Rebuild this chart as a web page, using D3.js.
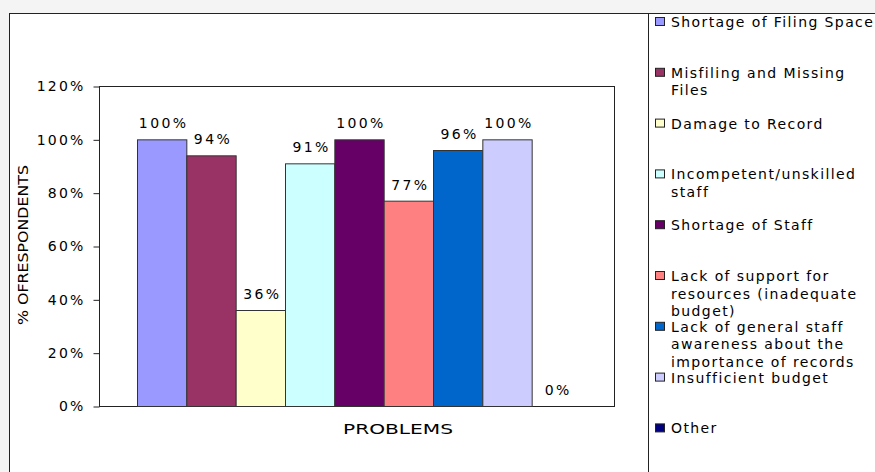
<!DOCTYPE html>
<html>
<head>
<meta charset="utf-8">
<script src="https://cdn.jsdelivr.net/npm/d3@7/dist/d3.min.js"></script>
<style>
  body { margin: 0; background: #f4f4f4; }
  svg text { font-family: "DejaVu Sans", Verdana, sans-serif; fill: #000; }
</style>
</head>
<body>
<svg id="chart" width="875" height="472"></svg>
<script>
// chart data
var problems = ["Shortage of Filing Space", "Misfiling and Missing Files", "Damage to Record",
  "Incompetent/unskilled staff", "Shortage of Staff",
  "Lack of support for resources (inadequate budget)",
  "Lack of general staff awareness about the importance of records",
  "Insufficient budget", "Other"];
var legendLines = [["Shortage of Filing Space"], ["Misfiling and Missing", "Files"], ["Damage to Record"],
  ["Incompetent/unskilled", "staff"], ["Shortage of Staff"],
  ["Lack of support for", "resources (inadequate", "budget)"],
  ["Lack of general staff", "awareness about the", "importance of records"],
  ["Insufficient budget"], ["Other"]];
var percents = [100, 94, 36, 91, 100, 77, 96, 100, 0];
var colors = ["#9999ff", "#993366", "#ffffcc", "#ccffff", "#660066", "#ff8080", "#0066cc", "#ccccff", "#000080"];
var yTicks = [0, 20, 40, 60, 80, 100, 120];

var svg = d3.select("#chart");

// chart frame (white area with dark border lines)
svg.append("rect").attr("x", 10).attr("y", 13).attr("width", 865).attr("height", 459).attr("fill", "#fff");
svg.append("line").attr("x1", 10).attr("x2", 875).attr("y1", 13.5).attr("y2", 13.5).attr("stroke", "#222");
svg.append("line").attr("x1", 9.5).attr("x2", 9.5).attr("y1", 13).attr("y2", 472).attr("stroke", "#222");
svg.append("line").attr("x1", 648.5).attr("x2", 648.5).attr("y1", 13).attr("y2", 472).attr("stroke", "#222");

var plot = {left: 99, top: 86, right: 614, bottom: 406};

var y = d3.scaleLinear().domain([0, 120]).range([plot.bottom, plot.top]);
var x = d3.scaleBand().domain(problems)
  .range([plot.left + 38, plot.right - 33]).paddingInner(0);

// plot box
svg.append("rect")
  .attr("x", plot.left + 0.5).attr("y", plot.top + 0.5)
  .attr("width", plot.right - plot.left).attr("height", plot.bottom - plot.top)
  .attr("fill", "#fff").attr("stroke", "#222");

// bars
svg.selectAll("rect.bar").data(problems).enter().append("rect")
  .attr("class", "bar")
  .attr("x", function(d) { return x(d) + 0.5; })
  .attr("y", function(d, i) { return y(percents[i]) + 0.5; })
  .attr("width", x.bandwidth())
  .attr("height", function(d, i) { return y(0) - y(percents[i]); })
  .attr("fill", function(d, i) { return colors[i]; })
  .attr("stroke", "#333").attr("stroke-width", 1);

// value labels
svg.selectAll("text.val").data(problems).enter().append("text")
  .attr("class", "val")
  .attr("x", function(d) { return x(d) + x.bandwidth() / 2 + 2; })
  .attr("y", function(d, i) { return y(percents[i]) - 11; })
  .attr("text-anchor", "middle")
  .attr("font-size", 14).attr("letter-spacing", 2.4)
  .text(function(d, i) { return percents[i] + "%"; });

// y axis
var yAxis = d3.axisLeft(y).tickValues(yTicks).tickSize(6).tickPadding(8)
  .tickFormat(function(d) { return d + "%"; });
var gy = svg.append("g").attr("transform", "translate(" + (plot.left + 0.5) + ",0.5)").call(yAxis);
gy.select(".domain").remove();
gy.selectAll(".tick line").attr("stroke", "#222");
gy.selectAll(".tick text").attr("font-size", 14).attr("letter-spacing", 2.2)
  .attr("font-family", "DejaVu Sans").attr("fill", "#000");

// axis titles
svg.append("text")
  .attr("transform", "translate(28,245) rotate(-90)")
  .attr("text-anchor", "middle").attr("font-size", 14)
  .attr("textLength", 160).attr("lengthAdjust", "spacingAndGlyphs")
  .text("% OFRESPONDENTS");

svg.append("text")
  .attr("x", 343).attr("y", 434)
  .attr("font-size", 14)
  .attr("textLength", 110).attr("lengthAdjust", "spacingAndGlyphs")
  .text("PROBLEMS");

// legend
var legend = svg.append("g").attr("transform", "translate(655,0)");
var items = legend.selectAll("g").data(problems).enter().append("g")
  .attr("transform", function(d, i) { return "translate(0," + (22 + i * 50.8) + ")"; });
items.append("rect")
  .attr("x", 0.5).attr("y", -4.5).attr("width", 9).attr("height", 8)
  .attr("fill", function(d, i) { return colors[i]; })
  .attr("stroke", "#222");
items.each(function(d, i) {
  var t = d3.select(this).append("text").attr("font-size", 14).attr("letter-spacing", 1.4);
  legendLines[i].forEach(function(line, k) {
    t.append("tspan").attr("x", 16).attr("y", 5 + k * 17.6).text(line);
  });
});
</script>
</body>
</html>
